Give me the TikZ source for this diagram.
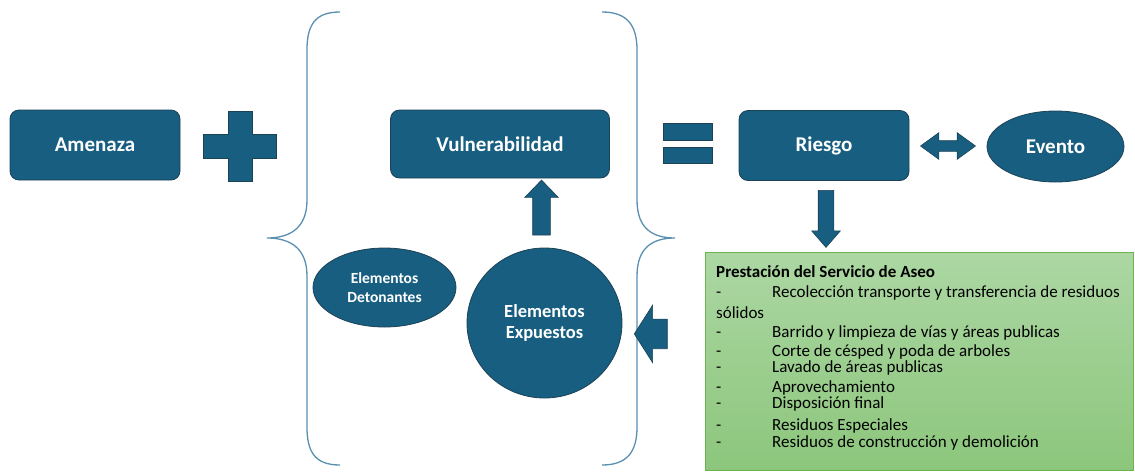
\documentclass[tikz,border=0pt]{standalone}
\usepackage{fontspec}
\setmainfont{Carlito}
\usetikzlibrary{positioning,shapes.geometric,shapes.arrows,calc}
\definecolor{azul}{HTML}{175E80}
\definecolor{borde}{HTML}{1C4256}
\definecolor{llavec}{HTML}{5A8FB0}
\definecolor{verdeA}{HTML}{ACD7A3}
\definecolor{verdeB}{HTML}{8CC67C}
\definecolor{verdeC}{HTML}{6DB34F}
\tikzset{
  caja/.style={draw=borde, fill=azul, rounded corners=9pt, text=white,
    font=\bfseries\fontsize{21}{25}\selectfont, minimum width=170pt,
    minimum height=70pt, line width=0.8pt},
  ovalo/.style={ellipse, draw=borde, fill=azul, text=white, inner sep=0pt,
    line width=0.8pt, align=center},
  flecha/.style={single arrow, draw=borde, fill=azul, inner xsep=0pt,
    line width=0.6pt},
  doble/.style={double arrow, draw=borde, fill=azul, inner xsep=0pt,
    line width=0.6pt},
  llave/.style={draw=llavec, line width=1.3pt},
  signo/.style={draw=borde, fill=azul, line width=0.6pt},
  linea/.style={anchor=base west, inner sep=0pt, font=\fontsize{17}{20}\selectfont},
}
\begin{document}
\begin{tikzpicture}[x=1pt,y=-1pt]
\useasboundingbox (0,0) rectangle (1135,472);
% Ecuacion
\node[caja] (amenaza) at (95,145) {Amenaza};
\draw[signo] (228,111) -- (252,111) -- (252,134) -- (276,134) -- (276,158)
  -- (252,158) -- (252,181) -- (228,181) -- (228,158) -- (203,158)
  -- (203,134) -- (228,134) -- cycle;
\node[caja, minimum width=219pt, minimum height=68pt] (vuln) at (500,144) {Vulnerabilidad};
\draw[signo] (663,123) rectangle (712,140);
\draw[signo] (663,147) rectangle (712,163);
\node[caja] (riesgo) at (824,145.5) {Riesgo};
\node[ovalo, minimum width=137pt, minimum height=71pt,
  font=\bfseries\fontsize{21}{25}\selectfont] (evento) at (1055.5,146.5) {Evento};
\node[doble, minimum height=55pt, inner ysep=5pt, double arrow head extend=8pt,
  double arrow tip angle=72] (enlace) at ($(riesgo.east)!0.5!(evento.west)$) {};

% Llaves
\draw[llave] (340,12) .. controls (315,12) and (307,25) .. (307,50) -- (307,200)
  .. controls (307,228) and (290,238) .. (267,238)
  .. controls (290,238) and (307,248) .. (307,276) -- (307,427)
  .. controls (307,452) and (315,465) .. (340,465);
\draw[llave] (602,12) .. controls (627,12) and (637,25) .. (637,50) -- (637,200)
  .. controls (637,228) and (652,238) .. (675,238)
  .. controls (652,238) and (637,248) .. (637,276) -- (637,427)
  .. controls (637,452) and (627,465) .. (602,465);

% Elementos
\node[ovalo, minimum width=143pt, minimum height=79pt,
  font=\bfseries\fontsize{15.5}{19}\selectfont] (detonantes) at (384.5,287.5) {Elementos\\Detonantes};
\node[ovalo, minimum width=155pt, minimum height=150pt,
  font=\bfseries\fontsize{18.5}{21}\selectfont] (expuestos) at (544.5,323) {Elementos\\Expuestos};
\node[flecha, rotate=90, minimum height=55pt, inner ysep=8.5pt,
  single arrow head extend=8pt, single arrow tip angle=88]
  (subir) at ($(expuestos.north)+(-3,-35.5)$) {};

% Servicio de aseo
\node[draw=verdeC, line width=0.8pt, top color=verdeA, bottom color=verdeB,
  minimum width=428pt, minimum height=218pt, anchor=north west] (aseo) at (705,252) {};
\node[flecha, rotate=-90, minimum height=57pt, inner ysep=7.5pt,
  single arrow head extend=6.5pt, single arrow tip angle=82]
  (bajar) at ($(riesgo.south)+(2,33.5)$) {};
\node[flecha, rotate=180, minimum height=33pt, inner ysep=14.5pt,
  single arrow head extend=14pt, single arrow tip angle=115]
  (volver) at ($(aseo.west)+(-49.5,-27.5)$) {};
\node[linea, font=\bfseries\fontsize{17}{20}\selectfont] (titulo) at (716,277) {Prestación del Servicio de Aseo};
\node[linea] (solidos) at (716,318) {sólidos};
\foreach \y/\t in {297/Recolección transporte y transferencia de residuos,
  337/Barrido y limpieza de vías y áreas publicas,
  356/Corte de césped y poda de arboles,
  372/Lavado de áreas publicas,
  392/Aprovechamiento,
  408/Disposición final,
  430/Residuos Especiales,
  447/Residuos de construcción y demolición} {
  \node[linea] at (716,\y) {-};
  \node[linea] at (772,\y) {\t};
}
\end{tikzpicture}
\end{document}
